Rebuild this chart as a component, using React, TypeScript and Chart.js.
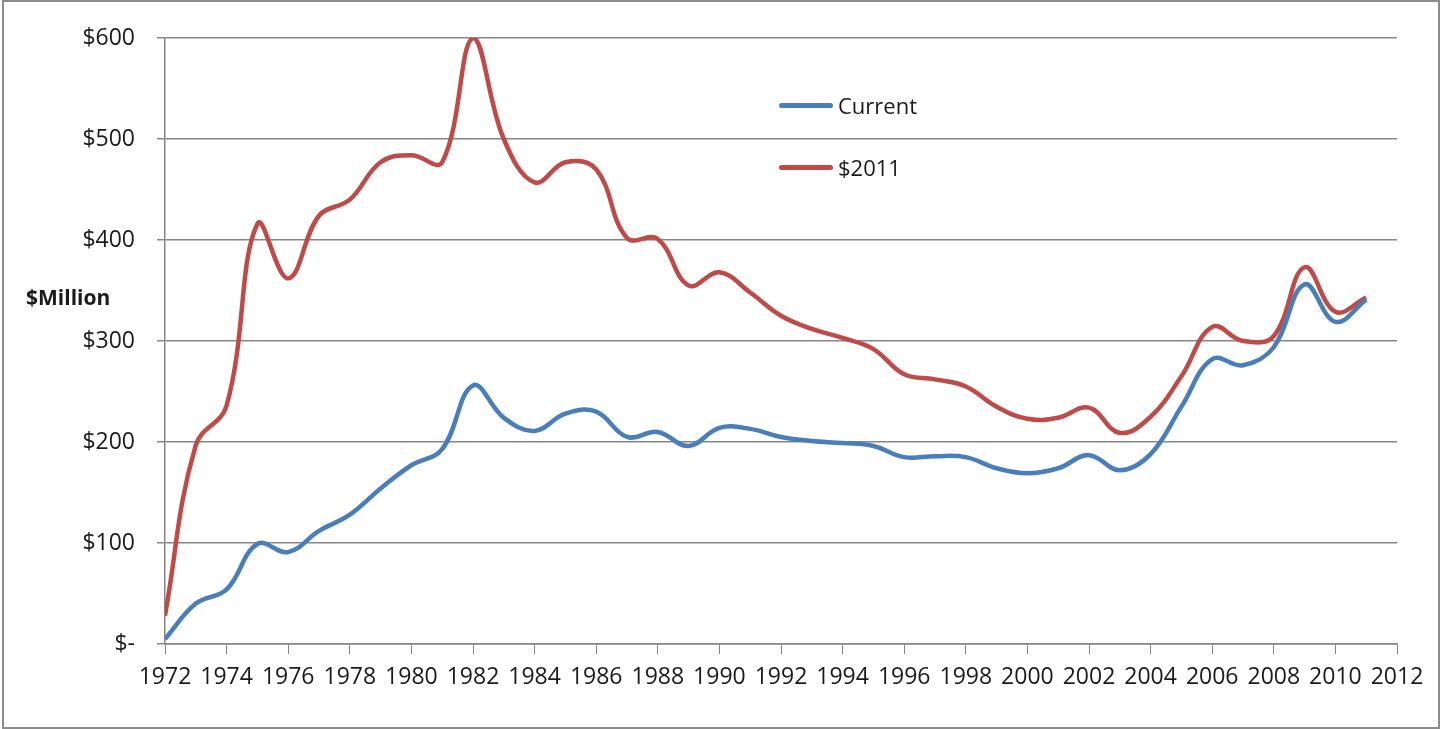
import React, { useEffect, useRef } from "react";
import { Chart, registerables } from "chart.js";

Chart.register(...registerables);

const years = [
  1972, 1973, 1974, 1975, 1976, 1977, 1978, 1979, 1980, 1981,
  1982, 1983, 1984, 1985, 1986, 1987, 1988, 1989, 1990, 1991,
  1992, 1993, 1994, 1995, 1996, 1997, 1998, 1999, 2000, 2001,
  2002, 2003, 2004, 2005, 2006, 2007, 2008, 2009, 2010, 2011,
];

const currentValues = [
  5, 40, 54, 99, 91, 112, 128, 154, 177, 193,
  256, 224, 211, 228, 230, 205, 210, 196, 214, 213,
  205, 201, 199, 196, 185, 186, 185, 174, 169, 174,
  187, 172, 188, 235, 282, 276, 294, 356, 319, 341,
];

const real2011Values = [
  28, 197, 236, 416, 362, 424, 440, 477, 484, 477,
  600, 500, 457, 477, 470, 402, 401, 355, 368, 348,
  325, 312, 303, 292, 267, 262, 255, 235, 223, 224,
  234, 209, 225, 265, 314, 300, 305, 373, 329, 343,
];

const seriesNames = ["Current", "$2011"];
const seriesColors = ["#4A7EBB", "#BE4B48"];
const yTicks = [0, 100, 200, 300, 400, 500, 600];
const axisTitle = "$Million";

const FONT = "'Open Sans', 'Noto Sans', sans-serif";
const GRID = "#868686";

export default function App() {
  const canvasRef = useRef<HTMLCanvasElement | null>(null);

  useEffect(() => {
    const canvas = canvasRef.current;
    if (!canvas) return;
    const toPoints = (vals: number[]) => years.map((yr, i) => ({ x: yr, y: vals[i] }));
    const chart = new Chart(canvas, {
      type: "line",
      data: {
        datasets: [
          {
            label: seriesNames[0],
            data: toPoints(currentValues),
            borderColor: seriesColors[0],
            backgroundColor: seriesColors[0],
            borderWidth: 4.5,
            pointRadius: 0,
            tension: 0.4,
            fill: false,
          },
          {
            label: seriesNames[1],
            data: toPoints(real2011Values),
            borderColor: seriesColors[1],
            backgroundColor: seriesColors[1],
            borderWidth: 4.5,
            pointRadius: 0,
            tension: 0.4,
            fill: false,
          },
        ],
      },
      options: {
        animation: false,
        responsive: false,
        maintainAspectRatio: false,
        layout: { padding: { left: 0, top: 38, right: 45, bottom: 0 } },
        plugins: {
          legend: { display: false },
          tooltip: { enabled: false },
        },
        scales: {
          x: {
            type: "linear",
            min: 1972,
            max: 2012,
            afterFit: (scale: any) => {
              scale.height = 85;
            },
            afterBuildTicks: (scale: any) => {
              const t: any[] = [];
              for (let v = 1972; v <= 2012; v += 2) t.push({ value: v });
              scale.ticks = t;
            },
            ticks: {
              stepSize: 2,
              color: "#1a1a1a",
              font: { family: FONT, size: 23 },
              padding: 10,
              maxRotation: 0,
              autoSkip: false,
              callback: (v: any) => String(v),
            },
            grid: {
              display: true,
              drawOnChartArea: false,
              drawTicks: true,
              tickLength: 10,
              color: GRID,
              lineWidth: 1,
            },
            border: { display: true, color: GRID, width: 1.5 },
          },
          y: {
            type: "linear",
            min: 0,
            max: 600,
            afterFit: (scale: any) => {
              scale.width = 165;
            },
            afterBuildTicks: (scale: any) => {
              scale.ticks = yTicks.map((v) => ({ value: v }));
            },
            ticks: {
              color: "#1a1a1a",
              font: { family: FONT, size: 23 },
              padding: 22,
              callback: (v: any) => (Number(v) === 0 ? "$-" : "$" + v),
            },
            grid: {
              display: true,
              drawTicks: true,
              tickLength: 8,
              color: GRID,
              lineWidth: 1.5,
            },
            border: { display: true, color: GRID, width: 1.5 },
          },
        },
      },
    });
    return () => chart.destroy();
  }, []);

  const legendItem = (i: number, top: number) => (
    <div
      key={i}
      style={{
        position: "absolute",
        left: 779,
        top: top - 15,
        height: 30,
        display: "flex",
        alignItems: "center",
      }}
    >
      <div
        style={{
          width: 54,
          height: 5,
          borderRadius: 3,
          background: seriesColors[i],
        }}
      />
      <span
        style={{
          marginLeft: 5,
          fontFamily: FONT,
          fontSize: 22,
          color: "#1a1a1a",
          lineHeight: "30px",
        }}
      >
        {seriesNames[i]}
      </span>
    </div>
  );

  return (
    <div
      style={{
        position: "fixed",
        left: 0,
        top: 0,
        width: 1442,
        height: 729,
        background: "#fff",
      }}
    >
      <canvas
        ref={canvasRef}
        width={1442}
        height={729}
        style={{ position: "absolute", left: 0, top: 0, width: 1442, height: 729 }}
      />
      <div
        style={{
          position: "absolute",
          left: 2,
          top: 0,
          width: 1434,
          height: 725,
          border: "2px solid #8c8c8c",
          pointerEvents: "none",
        }}
      />
      <div
        style={{
          position: "absolute",
          left: 26,
          top: 282,
          fontFamily: FONT,
          fontWeight: 700,
          fontSize: 21,
          color: "#1a1a1a",
          lineHeight: "30px",
        }}
      >
        {axisTitle}
      </div>
      {legendItem(0, 105)}
      {legendItem(1, 167)}
    </div>
  );
}
